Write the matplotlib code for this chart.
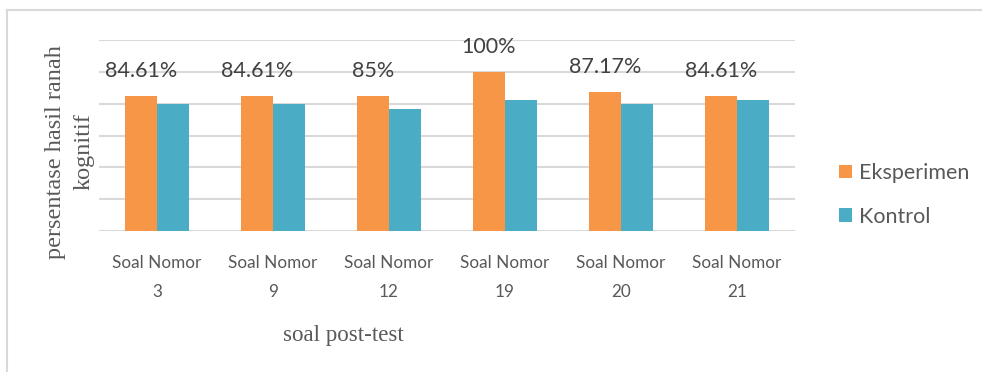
import matplotlib.pyplot as plt
import numpy as np
from matplotlib.lines import Line2D

# Persentase hasil ranah kognitif per soal post-test
categories = ["Soal Nomor\n3", "Soal Nomor\n9", "Soal Nomor\n12",
              "Soal Nomor\n19", "Soal Nomor\n20", "Soal Nomor\n21"]
eksperimen = [84.61, 84.61, 85, 100, 87.17, 84.61]
kontrol = [80, 80, 76.92, 82.05, 80, 82.05]
eksperimen_labels = ["84.61%", "84.61%", "85%", "100%", "87.17%", "84.61%"]

ORANGE = '#F79646'
BLUE = '#4BACC6'
GRID = '#D9D9D9'
TEXT = '#595959'
LABEL = '#404040'
SANS = ['Lato', 'DejaVu Sans']
SERIF = ['Liberation Serif', 'DejaVu Serif']

fig = plt.figure(figsize=(9.82, 3.72), dpi=100)
ax = fig.add_axes([99 / 982, 1 - 231 / 372, 696 / 982, 191 / 372])

x = np.arange(len(categories))
w = 0.276
ax.bar(x - w / 2, eksperimen, w, color=ORANGE, label='Eksperimen', zorder=3)
ax.bar(x + w / 2, kontrol, w, color=BLUE, label='Kontrol', zorder=3)

# data labels only on the experiment group
for xi, val, txt in zip(x, eksperimen, eksperimen_labels):
    ax.annotate(txt, (xi - w / 2, val), xytext=(0, 18), textcoords='offset points',
                ha='center', va='center', fontsize=15.5, color=LABEL, family=SANS)

ax.set_xlim(-0.5, len(categories) - 0.5)
ax.set_ylim(0, 120)
ax.set_yticks(np.arange(0, 121, 20))
ax.yaxis.grid(True, color=GRID, linewidth=1.5, zorder=0)
ax.tick_params(axis='y', left=False, labelleft=False)
ax.set_xticks(x)
ax.set_xticklabels(categories, fontsize=12.3, color=TEXT, family=SANS, linespacing=2.0)
ax.tick_params(axis='x', length=0, pad=17)
for s in ['top', 'right', 'left', 'bottom']:
    ax.spines[s].set_visible(False)

fig.text(70 / 982, 1 - 152 / 372, "persentase hasil ranah\nkognitif", rotation=90,
         ha='center', va='center', multialignment='center', fontsize=17.5,
         color=TEXT, family=SERIF, linespacing=1.45)
fig.text(343 / 982, 1 - 335 / 372, "soal post-test", ha='center', va='center',
         fontsize=16.5, color=TEXT, family=SERIF)

leg = fig.legend(loc='center left', bbox_to_anchor=(820 / 982, 1 - 195 / 372),
                 frameon=False, fontsize=15.5, handlelength=0.6, handleheight=0.6,
                 handletextpad=0.3, labelspacing=1.1)
for t in leg.get_texts():
    t.set_color(TEXT)
    t.set_family(SANS)

# chart area border (left and top edges)
fig.add_artist(Line2D([7 / 982, 7 / 982], [0, 1 - 10 / 372], color=GRID, linewidth=1.5))
fig.add_artist(Line2D([7 / 982, 1], [1 - 10 / 372, 1 - 10 / 372], color=GRID, linewidth=1.5))

fig.savefig('out.png', dpi=100, facecolor='white')
